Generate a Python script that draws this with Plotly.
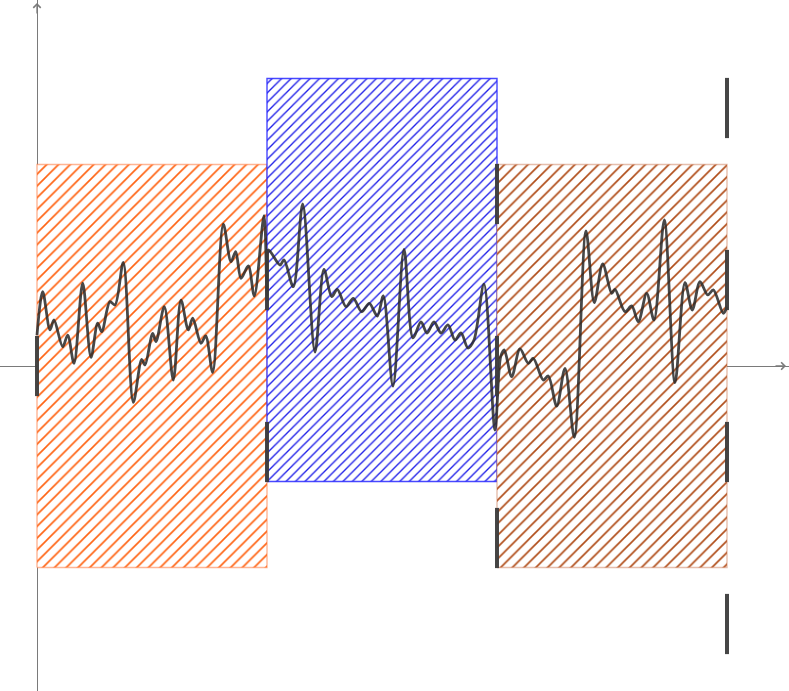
import plotly.graph_objects as go

# Random path (time, value)
path_t = [0.0, 0.0248, 0.0565, 0.0739, 0.1117, 0.1335, 0.1609, 0.1987, 0.2348, 0.2639,
          0.2813, 0.3174, 0.3391, 0.3752, 0.4187, 0.4552, 0.4696, 0.5030, 0.5174, 0.5535,
          0.5926, 0.6261, 0.6578, 0.6770, 0.7130, 0.7335, 0.7639, 0.8100, 0.8435, 0.8639,
          0.8870, 0.9187, 0.9448, 0.9870, 1.0, 1.0057, 1.0565, 1.0739, 1.1143, 1.1552,
          1.2087, 1.2478, 1.2813, 1.3057, 1.3435, 1.3752, 1.4117, 1.4448, 1.4796, 1.5057,
          1.5478, 1.5957, 1.6348, 1.6696, 1.6957, 1.7261, 1.7565, 1.7870, 1.8174, 1.8435,
          1.8739, 1.9000, 1.9435, 1.9913, 2.0161, 2.0317, 2.0639, 2.1000, 2.1361, 2.1578,
          2.2013, 2.2230, 2.2596, 2.2957, 2.3361, 2.3870, 2.4230, 2.4596, 2.4987, 2.5130,
          2.5565, 2.5857, 2.6143, 2.6509, 2.6826, 2.7274, 2.7739, 2.8174, 2.8491, 2.8826,
          2.9161, 2.9404, 2.9839, 3.0]
path_v = [0.36, 0.864, 0.419, 0.535, 0.224, 0.360, 0.031, 0.962, 0.101, 0.497,
          0.399, 0.748, 0.709, 1.206, -0.422, 0.078, 0.012, 0.380, 0.283, 0.690,
          -0.163, 0.767, 0.419, 0.555, 0.264, 0.349, -0.073, 1.648, 1.213, 1.329,
          1.020, 1.163, 0.814, 1.748, 0.826, 1.349, 1.174, 1.233, 0.922, 1.884,
          0.163, 1.124, 0.806, 0.892, 0.690, 0.787, 0.631, 0.729, 0.581, 0.814,
          -0.233, 1.357, 0.326, 0.512, 0.384, 0.512, 0.384, 0.477, 0.302, 0.384,
          0.209, 0.302, 0.953, -0.744, 0.108, 0.186, -0.124, 0.198, 0.031, 0.090,
          -0.163, -0.116, -0.465, -0.027, -0.829, 1.570, 0.736, 1.186, 0.845, 0.892,
          0.631, 0.698, 0.515, 0.845, 0.535, 1.698, -0.194, 0.969, 0.651, 0.980,
          0.826, 0.884, 0.613, 0.690]

# Bands (hatched rectangles)
band_start = [0, 1, 2]
band_end = [1, 2, 3]
band_center = [0, 1, 0]
band_half = 2.343
band_line = ["rgba(255,120,60,0.55)", "rgba(40,40,255,0.85)", "rgba(200,110,70,0.45)"]
band_hatch = ["#ff6414", "#1e1ee8", "#b04c18"]
band_size = [8.3, 6.7, 8.3]

# Lattice points (tree nodes) and marker half length
node_t = [0, 1, 1, 2, 2, 2, 3, 3, 3, 3]
node_v = [0, 1, -1, 2, 0, -2, 3, 1, -1, -3]
node_half = 0.35

fig = go.Figure()

for s, e, c, lc, hc, sz in zip(band_start, band_end, band_center, band_line, band_hatch, band_size):
    fig.add_trace(go.Scatter(
        x=[s, e, e, s, s],
        y=[c - band_half, c - band_half, c + band_half, c + band_half, c - band_half],
        mode="lines", fill="toself",
        fillcolor="white",
        fillpattern=dict(shape="/", fgcolor=hc, fgopacity=1,
                         bgcolor="white",
                         size=sz, solidity=0.2),
        line=dict(color=lc, width=1.4),
        hoverinfo="skip", showlegend=False))

fig.add_trace(go.Scatter(
    x=path_t, y=path_v, mode="lines",
    line=dict(color="rgba(40,40,40,0.85)", width=2.8, shape="spline", smoothing=0.9),
    hoverinfo="skip", showlegend=False))

seg_x, seg_y = [], []
for t, v in zip(node_t, node_v):
    seg_x += [t, t, None]
    seg_y += [v - node_half, v + node_half, None]
fig.add_trace(go.Scatter(
    x=seg_x, y=seg_y, mode="lines",
    line=dict(color="rgba(60,60,60,0.95)", width=4),
    hoverinfo="skip", showlegend=False))

W, H = 789, 691
x_lo = -37 / 230
x_hi = (W - 37) / 230
y_hi = 366 / 86
y_lo = -(H - 366) / 86

fig.update_layout(
    width=W, height=H, margin=dict(l=0, r=0, t=0, b=0),
    paper_bgcolor="white", plot_bgcolor="white",
    xaxis=dict(range=[x_lo, x_hi], showgrid=False, showticklabels=False, ticks="",
               zeroline=True, zerolinecolor="#7a7a7a", zerolinewidth=1.3, fixedrange=True),
    yaxis=dict(range=[y_lo, y_hi], showgrid=False, showticklabels=False, ticks="",
               zeroline=True, zerolinecolor="#7a7a7a", zerolinewidth=1.3, fixedrange=True),
    annotations=[
        dict(x=749 / 230, y=0, ax=-12, ay=0, showarrow=True, arrowhead=4,
             arrowsize=1.1, arrowwidth=1.3, arrowcolor="#7a7a7a", text=""),
        dict(x=0, y=363 / 86, ax=0, ay=12, showarrow=True, arrowhead=4,
             arrowsize=1.1, arrowwidth=1.3, arrowcolor="#7a7a7a", text=""),
    ],
)

fig.write_html("out.html", config={"displayModeBar": False},
               post_script="document.body.style.margin='0';")
